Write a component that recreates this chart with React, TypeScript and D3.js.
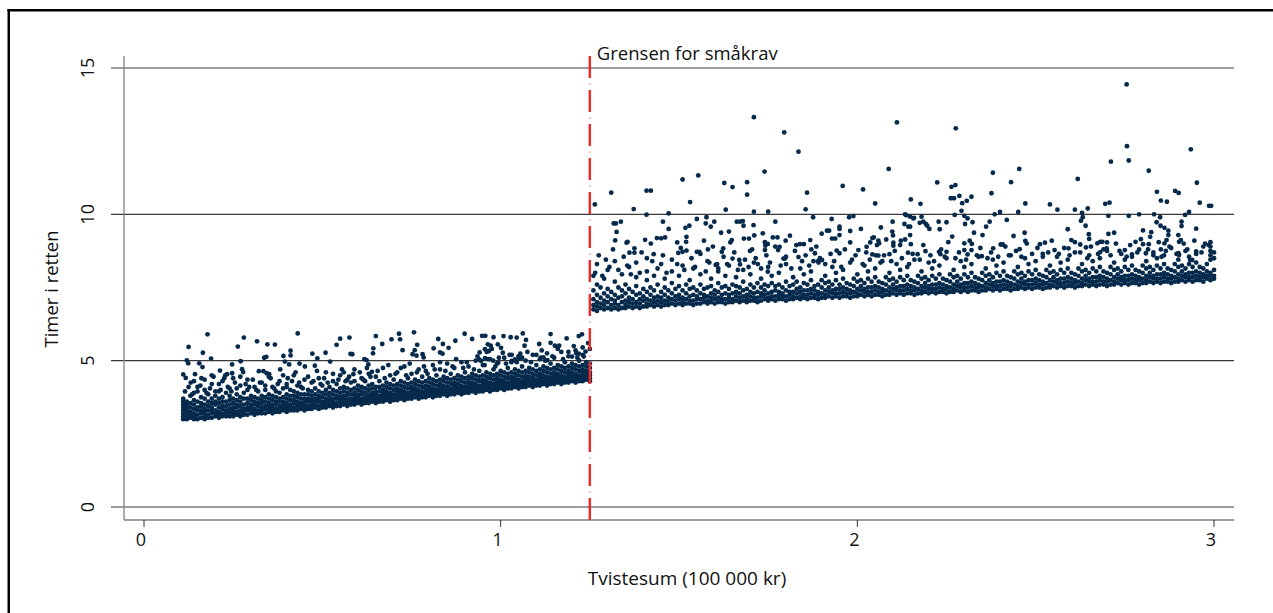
import React from 'react';
import * as d3 from 'd3';

// axis ticks
const xTicks = [0, 1, 2, 3];
const yTicks = [0, 5, 10, 15];
const threshold = 1.25;

// left group (below the small-claims limit): [x, y1, y2, ...] per thin x-slice
const leftBand: number[][] = [
  [0.11, 3.0, 3.1, 3.2, 3.3, 3.4, 3.5, 3.6, 3.7], [0.12, 3.0, 3.1, 3.2, 3.3, 3.4, 3.5, 3.6],
  [0.13, 3.05, 3.15, 3.25, 3.4, 3.55, 3.8], [0.14, 3.0, 3.1, 3.2, 3.35, 3.5, 3.65, 3.9],
  [0.15, 3.0, 3.15, 3.3, 3.4, 3.6, 4.1], [0.16, 3.05, 3.2, 3.3, 3.45, 3.55, 3.75],
  [0.17, 3.0, 3.1, 3.25, 3.35, 3.5, 3.7, 4.0], [0.18, 3.05, 3.15, 3.3, 3.45, 3.6, 3.85],
  [0.19, 3.05, 3.2, 3.3, 3.4, 3.55, 3.7, 4.2], [0.2, 3.1, 3.2, 3.3, 3.5, 3.6, 3.8],
  [0.21, 3.05, 3.15, 3.25, 3.4, 3.55, 3.7, 3.95], [0.22, 3.1, 3.2, 3.35, 3.45, 3.6, 3.75, 4.3],
  [0.23, 3.1, 3.2, 3.3, 3.45, 3.6, 3.9], [0.24, 3.1, 3.25, 3.35, 3.5, 3.65, 3.8, 4.05],
  [0.25, 3.1, 3.2, 3.3, 3.4, 3.55, 3.7, 4.4], [0.26, 3.15, 3.25, 3.4, 3.5, 3.65, 3.85],
  [0.27, 3.1, 3.2, 3.3, 3.45, 3.6, 3.75, 4.15], [0.28, 3.15, 3.25, 3.35, 3.5, 3.7, 3.9],
  [0.29, 3.15, 3.3, 3.4, 3.55, 3.7, 4.0, 4.35], [0.3, 3.2, 3.3, 3.4, 3.5, 3.65, 3.8],
  [0.31, 3.15, 3.25, 3.35, 3.5, 3.6, 3.75, 4.1], [0.32, 3.2, 3.3, 3.45, 3.55, 3.7, 3.95],
  [0.33, 3.2, 3.3, 3.4, 3.55, 3.65, 3.8, 4.25], [0.34, 3.2, 3.35, 3.45, 3.6, 3.75, 4.0],
  [0.35, 3.25, 3.35, 3.45, 3.55, 3.7, 3.85, 4.45], [0.36, 3.2, 3.3, 3.4, 3.5, 3.65, 3.8, 4.1],
  [0.37, 3.25, 3.35, 3.5, 3.6, 3.75, 3.95], [0.38, 3.25, 3.35, 3.45, 3.6, 3.7, 3.9, 4.3],
  [0.39, 3.3, 3.4, 3.5, 3.6, 3.75, 4.05], [0.4, 3.25, 3.35, 3.45, 3.55, 3.7, 3.85, 4.2],
  [0.41, 3.3, 3.4, 3.5, 3.65, 3.8, 4.0], [0.42, 3.3, 3.4, 3.55, 3.65, 3.8, 3.95, 4.5],
  [0.43, 3.3, 3.4, 3.5, 3.6, 3.75, 3.9, 4.15], [0.44, 3.35, 3.45, 3.55, 3.7, 3.85, 4.1],
  [0.45, 3.3, 3.4, 3.5, 3.6, 3.7, 3.85, 4.35], [0.46, 3.35, 3.45, 3.6, 3.7, 3.85, 4.0],
  [0.47, 3.35, 3.45, 3.55, 3.65, 3.8, 3.95, 4.25], [0.48, 3.4, 3.5, 3.6, 3.7, 3.85, 4.05],
  [0.49, 3.35, 3.45, 3.6, 3.7, 3.8, 3.95, 4.4], [0.5, 3.4, 3.5, 3.6, 3.75, 3.9, 4.15],
  [0.51, 3.4, 3.5, 3.6, 3.7, 3.85, 4.0, 4.6], [0.52, 3.45, 3.55, 3.65, 3.75, 3.9, 4.1],
  [0.53, 3.4, 3.5, 3.6, 3.7, 3.85, 4.0, 4.3], [0.54, 3.45, 3.55, 3.7, 3.8, 3.95, 4.2],
  [0.55, 3.45, 3.55, 3.65, 3.75, 3.9, 4.05, 4.5], [0.56, 3.5, 3.6, 3.7, 3.8, 3.95, 4.1],
  [0.57, 3.45, 3.55, 3.65, 3.8, 3.9, 4.05, 4.35], [0.58, 3.5, 3.6, 3.7, 3.85, 4.0, 4.25],
  [0.59, 3.5, 3.6, 3.7, 3.8, 3.9, 4.05, 4.7], [0.6, 3.55, 3.65, 3.75, 3.85, 4.0, 4.15],
  [0.61, 3.5, 3.6, 3.7, 3.85, 3.95, 4.1, 4.4], [0.62, 3.55, 3.65, 3.75, 3.9, 4.05, 4.3],
  [0.63, 3.55, 3.65, 3.75, 3.85, 4.0, 4.15, 4.55], [0.64, 3.6, 3.7, 3.8, 3.9, 4.05, 4.2],
  [0.65, 3.55, 3.65, 3.75, 3.85, 3.95, 4.1, 4.45], [0.66, 3.6, 3.7, 3.8, 3.95, 4.1, 4.3],
  [0.67, 3.6, 3.7, 3.8, 3.9, 4.0, 4.15, 4.75], [0.68, 3.65, 3.75, 3.85, 3.95, 4.1, 4.25],
  [0.69, 3.6, 3.7, 3.8, 3.9, 4.05, 4.2, 4.5], [0.7, 3.65, 3.75, 3.85, 4.0, 4.15, 4.35],
  [0.71, 3.65, 3.75, 3.85, 3.95, 4.05, 4.2, 4.6], [0.72, 3.7, 3.8, 3.9, 4.0, 4.15, 4.3],
  [0.73, 3.65, 3.75, 3.85, 3.95, 4.1, 4.25, 4.8], [0.74, 3.7, 3.8, 3.9, 4.05, 4.2, 4.4],
  [0.75, 3.7, 3.8, 3.9, 4.0, 4.1, 4.25, 4.55], [0.76, 3.75, 3.85, 3.95, 4.05, 4.2, 4.35],
  [0.77, 3.7, 3.8, 3.9, 4.0, 4.15, 4.3, 4.7], [0.78, 3.75, 3.85, 3.95, 4.1, 4.25, 4.45],
  [0.79, 3.75, 3.85, 3.95, 4.05, 4.15, 4.3, 4.65], [0.8, 3.8, 3.9, 4.0, 4.1, 4.25, 4.4],
  [0.81, 3.75, 3.85, 3.95, 4.05, 4.2, 4.35, 4.85], [0.82, 3.8, 3.9, 4.0, 4.15, 4.3, 4.5],
  [0.83, 3.8, 3.9, 4.0, 4.1, 4.2, 4.35, 4.7], [0.84, 3.85, 3.95, 4.05, 4.15, 4.3, 4.45],
  [0.85, 3.8, 3.9, 4.0, 4.1, 4.25, 4.4, 4.9], [0.86, 3.85, 3.95, 4.05, 4.2, 4.35, 4.55],
  [0.87, 3.85, 3.95, 4.05, 4.15, 4.25, 4.4, 4.75], [0.88, 3.9, 4.0, 4.1, 4.2, 4.35, 4.5],
  [0.89, 3.85, 3.95, 4.05, 4.15, 4.3, 4.45, 4.95], [0.9, 3.9, 4.0, 4.1, 4.25, 4.4, 4.6],
  [0.91, 3.9, 4.0, 4.1, 4.2, 4.3, 4.45, 4.8], [0.92, 3.95, 4.05, 4.15, 4.25, 4.4, 4.55],
  [0.93, 3.9, 4.0, 4.1, 4.2, 4.35, 4.5, 5.0], [0.94, 3.95, 4.05, 4.15, 4.3, 4.45, 4.65],
  [0.95, 3.95, 4.05, 4.15, 4.25, 4.35, 4.5, 4.85], [0.96, 4.0, 4.1, 4.2, 4.3, 4.45, 4.6],
  [0.97, 3.95, 4.05, 4.15, 4.25, 4.4, 4.55, 5.05], [0.98, 4.0, 4.1, 4.2, 4.35, 4.5, 4.7],
  [0.99, 4.0, 4.1, 4.2, 4.3, 4.4, 4.55, 4.9], [1.0, 4.05, 4.15, 4.25, 4.35, 4.5, 4.65],
  [1.01, 4.0, 4.1, 4.2, 4.3, 4.45, 4.6, 5.1], [1.02, 4.05, 4.15, 4.25, 4.4, 4.55, 4.75],
  [1.03, 4.05, 4.15, 4.25, 4.35, 4.45, 4.6, 4.95], [1.04, 4.1, 4.2, 4.3, 4.4, 4.55, 4.7],
  [1.05, 4.05, 4.15, 4.25, 4.35, 4.5, 4.65, 5.15], [1.06, 4.1, 4.2, 4.3, 4.45, 4.6, 4.8],
  [1.07, 4.1, 4.2, 4.3, 4.4, 4.5, 4.65, 5.0], [1.08, 4.15, 4.25, 4.35, 4.45, 4.6, 4.75],
  [1.09, 4.1, 4.2, 4.3, 4.4, 4.55, 4.7, 5.2], [1.1, 4.15, 4.25, 4.35, 4.5, 4.65, 4.85],
  [1.11, 4.15, 4.25, 4.35, 4.45, 4.55, 4.7, 5.05], [1.12, 4.2, 4.3, 4.4, 4.5, 4.65, 4.8],
  [1.13, 4.15, 4.25, 4.35, 4.45, 4.6, 4.75, 5.25], [1.14, 4.2, 4.3, 4.4, 4.55, 4.7, 4.9],
  [1.15, 4.2, 4.3, 4.4, 4.5, 4.6, 4.75, 5.1], [1.16, 4.25, 4.35, 4.45, 4.55, 4.7, 4.85],
  [1.17, 4.2, 4.3, 4.4, 4.5, 4.65, 4.8, 5.3], [1.18, 4.25, 4.35, 4.45, 4.6, 4.75, 4.95],
  [1.19, 4.25, 4.35, 4.45, 4.55, 4.65, 4.8, 5.15], [1.2, 4.3, 4.4, 4.5, 4.6, 4.75, 4.9],
  [1.21, 4.25, 4.35, 4.45, 4.55, 4.7, 4.85, 5.35], [1.22, 4.3, 4.4, 4.5, 4.65, 4.8, 5.0],
  [1.23, 4.3, 4.4, 4.5, 4.6, 4.7, 4.85, 5.2], [1.24, 4.35, 4.45, 4.55, 4.65, 4.8, 4.95],
  [1.25, 4.3, 4.4, 4.5, 4.6, 4.75, 4.9, 5.4],
];

// left group, looser points just above the dense band
const leftMid: [number, number][] = [
  [0.115, 3.95], [0.125, 4.1], [0.135, 3.85], [0.14, 4.3], [0.15, 3.95], [0.158, 4.15], [0.17, 4.35],
  [0.175, 3.9], [0.185, 4.05], [0.195, 4.45], [0.2, 3.95], [0.21, 4.2], [0.215, 4.0], [0.225, 4.4],
  [0.235, 4.1], [0.245, 3.95], [0.255, 4.25], [0.26, 4.05], [0.27, 4.45], [0.285, 4.2], [0.295, 4.1],
  [0.305, 4.35], [0.315, 4.0], [0.325, 4.25], [0.34, 4.15], [0.355, 4.4], [0.365, 4.05], [0.375, 4.2],
  [0.39, 4.5], [0.4, 4.1], [0.415, 4.3], [0.425, 4.6], [0.435, 4.25], [0.445, 4.05], [0.46, 4.45],
  [0.475, 4.3], [0.485, 4.65], [0.495, 4.2], [0.505, 4.4], [0.515, 4.25], [0.53, 4.55], [0.545, 4.35],
  [0.555, 4.7], [0.565, 4.3], [0.575, 4.45], [0.59, 4.3], [0.605, 4.6], [0.615, 4.35], [0.625, 4.75],
  [0.635, 4.45], [0.655, 4.65], [0.675, 4.4], [0.685, 4.85], [0.705, 4.55], [0.72, 4.75], [0.735, 4.5],
  [0.745, 4.9], [0.765, 4.6], [0.785, 4.8], [0.795, 4.55], [0.815, 4.7], [0.83, 4.95], [0.845, 4.65],
  [0.865, 4.8], [0.875, 5.05], [0.895, 4.75], [0.905, 4.95], [0.925, 4.7], [0.935, 5.15], [0.955, 4.85],
  [0.965, 5.05], [0.985, 4.8], [0.995, 5.1], [1.015, 4.9], [1.025, 5.2], [1.045, 4.95], [1.06, 5.1],
  [1.075, 5.3], [1.085, 4.95], [1.1, 5.2], [1.115, 5.35], [1.125, 5.0], [1.145, 5.15], [1.16, 5.4],
  [1.175, 5.05], [1.19, 5.3], [1.205, 5.5], [1.215, 5.1], [1.23, 5.45], [1.245, 5.6],
];

// scattered high values in the left group
const leftUpper: [number, number][] = [
  [0.178, 5.9], [0.125, 5.47], [0.12, 5.01], [0.124, 4.91], [0.165, 5.27], [0.188, 5.07],
  [0.11, 4.53], [0.117, 4.41], [0.143, 4.54], [0.131, 4.25], [0.155, 4.91], [0.164, 4.78],
  [0.19, 4.5], [0.161, 4.4], [0.213, 4.66], [0.228, 4.5], [0.233, 4.54], [0.247, 4.57],
  [0.247, 4.87], [0.263, 5.48], [0.28, 5.79], [0.271, 4.98], [0.275, 4.71], [0.278, 4.61],
  [0.317, 5.66], [0.346, 5.56], [0.367, 5.55], [0.337, 5.1], [0.343, 5.13], [0.322, 4.64],
  [0.335, 4.64], [0.344, 4.57], [0.351, 4.54], [0.382, 4.7], [0.395, 4.97], [0.391, 5.16],
  [0.411, 5.34], [0.411, 5.18], [0.431, 5.93], [0.407, 4.87], [0.436, 4.9], [0.403, 4.4],
  [0.451, 4.8], [0.479, 4.83], [0.472, 5.24], [0.486, 5.08], [0.509, 5.27], [0.522, 4.97],
  [0.54, 5.54], [0.55, 5.75], [0.576, 5.79], [0.579, 5.23], [0.584, 5.22], [0.56, 4.6],
  [0.587, 4.54], [0.618, 5.05], [0.624, 5.02], [0.629, 4.87], [0.643, 5.42], [0.65, 5.84],
  [0.642, 5.25], [0.639, 4.62], [0.668, 5.57], [0.694, 5.73], [0.715, 5.92], [0.718, 5.73],
  [0.757, 5.97], [0.725, 5.36], [0.753, 5.22], [0.759, 5.36], [0.766, 5.54], [0.764, 5.17],
  [0.781, 5.22], [0.784, 5.11], [0.825, 5.74], [0.838, 5.57], [0.854, 5.44], [0.873, 5.68],
  [0.812, 5.42], [0.83, 5.28], [0.837, 5.24], [0.899, 5.92], [0.92, 5.74], [0.948, 5.85],
  [0.957, 5.85], [0.98, 5.8], [1.008, 5.84], [1.028, 5.8], [1.045, 5.79], [1.062, 5.93],
  [0.964, 5.56], [0.972, 5.51], [0.975, 5.4], [0.967, 5.33], [0.961, 5.3], [0.956, 5.39],
  [0.941, 5.28], [0.992, 5.56], [1.001, 5.44], [1.006, 5.27], [1.031, 5.2], [1.055, 5.24],
  [1.071, 5.71], [1.067, 5.51], [1.108, 5.57], [1.14, 5.91], [1.14, 5.61], [1.152, 5.51],
  [1.164, 5.51], [1.112, 5.1], [1.12, 5.11], [1.131, 5.02], [1.185, 5.76], [1.219, 5.84],
  [1.228, 5.9], [1.2, 5.14], [1.212, 5.25], [1.219, 5.24], [1.238, 5.31], [1.233, 5.14],
  [0.94, 5.04], [0.945, 4.99], [0.956, 5.09], [0.979, 5.0], [0.993, 4.93], [1.031, 4.99],
  [1.04, 5.04], [1.052, 5.08],
];

// right group (above the limit): [x, y1, y2, ...] per thin x-slice
const rightBand: number[][] = [
  [1.26, 6.75, 6.9, 7.1, 7.4, 7.9], [1.27, 6.7, 6.85, 7.0, 7.25, 7.6, 8.3], [1.28, 6.8, 6.95, 7.15, 7.5],
  [1.29, 6.75, 6.9, 7.05, 7.3, 7.8], [1.3, 6.8, 7.0, 7.2, 7.45, 8.1], [1.31, 6.75, 6.9, 7.1, 7.35],
  [1.32, 6.8, 6.95, 7.05, 7.25, 7.7, 8.4], [1.33, 6.75, 6.9, 7.15, 7.5], [1.34, 6.8, 7.0, 7.2, 7.4, 7.95],
  [1.35, 6.8, 6.9, 7.05, 7.3, 7.6], [1.36, 6.85, 7.0, 7.15, 7.45, 8.2], [1.37, 6.8, 6.95, 7.1, 7.35],
  [1.38, 6.85, 7.0, 7.25, 7.55, 7.85], [1.39, 6.8, 6.95, 7.1, 7.3, 8.0], [1.4, 6.85, 7.05, 7.2, 7.45],
  [1.41, 6.85, 6.95, 7.1, 7.35, 7.75, 8.5], [1.42, 6.9, 7.05, 7.25, 7.5], [1.43, 6.85, 7.0, 7.15, 7.4, 7.9],
  [1.44, 6.9, 7.05, 7.2, 7.6], [1.45, 6.85, 7.0, 7.15, 7.35, 8.3], [1.46, 6.9, 7.05, 7.25, 7.5, 7.8],
  [1.47, 6.9, 7.0, 7.15, 7.4], [1.48, 6.95, 7.1, 7.3, 7.65, 8.05], [1.49, 6.9, 7.05, 7.2, 7.45],
  [1.5, 6.95, 7.1, 7.25, 7.55, 7.9], [1.51, 6.9, 7.0, 7.15, 7.4, 8.25], [1.52, 6.95, 7.1, 7.3, 7.6],
  [1.53, 6.95, 7.05, 7.2, 7.45, 7.75], [1.54, 6.9, 7.05, 7.25, 7.5, 8.15], [1.55, 6.95, 7.1, 7.2, 7.4],
  [1.56, 6.95, 7.1, 7.3, 7.6, 7.95], [1.57, 7.0, 7.15, 7.25, 7.45], [1.58, 6.95, 7.05, 7.2, 7.5, 8.4],
  [1.59, 7.0, 7.15, 7.3, 7.55, 7.8], [1.6, 6.95, 7.1, 7.25, 7.4], [1.61, 7.0, 7.15, 7.35, 7.65, 8.05],
  [1.62, 7.0, 7.1, 7.25, 7.5], [1.63, 6.95, 7.1, 7.3, 7.55, 7.9], [1.64, 7.0, 7.15, 7.25, 7.45, 8.25],
  [1.65, 7.0, 7.1, 7.3, 7.6], [1.66, 7.05, 7.2, 7.35, 7.55, 7.85], [1.67, 7.0, 7.15, 7.3, 7.5],
  [1.68, 7.05, 7.2, 7.4, 7.7, 8.1], [1.69, 7.0, 7.1, 7.25, 7.45], [1.7, 7.05, 7.2, 7.35, 7.6, 7.95],
  [1.71, 7.05, 7.15, 7.3, 7.5, 8.35], [1.72, 7.0, 7.15, 7.35, 7.65], [1.73, 7.05, 7.2, 7.3, 7.5, 7.8],
  [1.74, 7.1, 7.25, 7.4, 7.6], [1.75, 7.05, 7.15, 7.3, 7.55, 8.2], [1.76, 7.1, 7.2, 7.35, 7.65, 7.9],
  [1.77, 7.05, 7.2, 7.4, 7.55], [1.78, 7.1, 7.25, 7.35, 7.6, 8.0], [1.79, 7.1, 7.2, 7.3, 7.5],
  [1.8, 7.05, 7.2, 7.4, 7.7, 8.3], [1.81, 7.1, 7.25, 7.35, 7.55], [1.82, 7.1, 7.2, 7.35, 7.6, 7.85],
  [1.83, 7.15, 7.3, 7.45, 7.7], [1.84, 7.1, 7.2, 7.35, 7.5, 8.15], [1.85, 7.15, 7.25, 7.4, 7.65, 7.95],
  [1.86, 7.1, 7.25, 7.4, 7.6], [1.87, 7.15, 7.3, 7.45, 7.75, 8.05], [1.88, 7.15, 7.25, 7.4, 7.55],
  [1.89, 7.1, 7.25, 7.35, 7.6, 8.4], [1.9, 7.15, 7.3, 7.5, 7.75], [1.91, 7.15, 7.25, 7.4, 7.65, 7.9],
  [1.92, 7.2, 7.35, 7.5, 7.7], [1.93, 7.15, 7.3, 7.4, 7.6, 8.2], [1.94, 7.2, 7.3, 7.45, 7.75, 8.0],
  [1.95, 7.15, 7.3, 7.45, 7.6], [1.96, 7.2, 7.35, 7.5, 7.8, 8.1], [1.97, 7.2, 7.3, 7.45, 7.65],
  [1.98, 7.15, 7.3, 7.4, 7.6, 8.35], [1.99, 7.2, 7.35, 7.55, 7.8], [2.0, 7.2, 7.3, 7.45, 7.7, 7.95],
  [2.01, 7.25, 7.4, 7.55, 7.75], [2.02, 7.2, 7.35, 7.45, 7.65, 8.25], [2.03, 7.25, 7.35, 7.5, 7.8, 8.05],
  [2.04, 7.2, 7.35, 7.5, 7.7], [2.05, 7.25, 7.4, 7.55, 7.85, 8.15], [2.06, 7.25, 7.35, 7.5, 7.7],
  [2.07, 7.2, 7.35, 7.45, 7.65, 8.4], [2.08, 7.25, 7.4, 7.6, 7.85], [2.09, 7.25, 7.35, 7.5, 7.75, 8.0],
  [2.1, 7.3, 7.45, 7.6, 7.8], [2.11, 7.25, 7.4, 7.5, 7.7, 8.3], [2.12, 7.3, 7.4, 7.55, 7.85, 8.1],
  [2.13, 7.25, 7.4, 7.55, 7.75], [2.14, 7.3, 7.45, 7.6, 7.9, 8.2], [2.15, 7.3, 7.4, 7.55, 7.75],
  [2.16, 7.25, 7.4, 7.5, 7.7, 8.45], [2.17, 7.3, 7.45, 7.65, 7.9], [2.18, 7.3, 7.4, 7.55, 7.8, 8.05],
  [2.19, 7.35, 7.5, 7.65, 7.85], [2.2, 7.3, 7.45, 7.55, 7.75, 8.35], [2.21, 7.35, 7.45, 7.6, 7.9, 8.15],
  [2.22, 7.3, 7.45, 7.6, 7.8], [2.23, 7.35, 7.5, 7.65, 7.95, 8.25], [2.24, 7.35, 7.45, 7.6, 7.8],
  [2.25, 7.3, 7.45, 7.55, 7.75, 8.5], [2.26, 7.35, 7.5, 7.7, 7.95], [2.27, 7.35, 7.45, 7.6, 7.85, 8.1],
  [2.28, 7.4, 7.55, 7.7, 7.9], [2.29, 7.35, 7.5, 7.6, 7.8, 8.4], [2.3, 7.4, 7.5, 7.65, 7.95, 8.2],
  [2.31, 7.35, 7.5, 7.65, 7.85], [2.32, 7.4, 7.55, 7.7, 8.0, 8.3], [2.33, 7.4, 7.5, 7.65, 7.85],
  [2.34, 7.35, 7.5, 7.6, 7.8, 8.55], [2.35, 7.4, 7.55, 7.75, 8.0], [2.36, 7.4, 7.5, 7.65, 7.9, 8.15],
  [2.37, 7.45, 7.6, 7.75, 7.95], [2.38, 7.4, 7.55, 7.65, 7.85, 8.45], [2.39, 7.45, 7.55, 7.7, 8.0, 8.25],
  [2.4, 7.4, 7.55, 7.7, 7.9], [2.41, 7.45, 7.6, 7.75, 8.05, 8.35], [2.42, 7.45, 7.55, 7.7, 7.9],
  [2.43, 7.4, 7.55, 7.65, 7.85, 8.6], [2.44, 7.45, 7.6, 7.8, 8.05], [2.45, 7.45, 7.55, 7.7, 7.95, 8.2],
  [2.46, 7.5, 7.65, 7.8, 8.0], [2.47, 7.45, 7.6, 7.7, 7.9, 8.5], [2.48, 7.5, 7.6, 7.75, 8.05, 8.3],
  [2.49, 7.45, 7.6, 7.75, 7.95], [2.5, 7.5, 7.65, 7.8, 8.1, 8.4], [2.51, 7.5, 7.6, 7.75, 7.95],
  [2.52, 7.45, 7.6, 7.7, 7.9, 8.65], [2.53, 7.5, 7.65, 7.85, 8.1], [2.54, 7.5, 7.6, 7.75, 8.0, 8.25],
  [2.55, 7.55, 7.7, 7.85, 8.05], [2.56, 7.5, 7.65, 7.75, 7.95, 8.55], [2.57, 7.55, 7.65, 7.8, 8.1, 8.35],
  [2.58, 7.5, 7.65, 7.8, 8.0], [2.59, 7.55, 7.7, 7.85, 8.15, 8.45], [2.6, 7.55, 7.65, 7.8, 8.0],
  [2.61, 7.5, 7.65, 7.75, 7.95, 8.7], [2.62, 7.55, 7.7, 7.9, 8.15], [2.63, 7.55, 7.65, 7.8, 8.05, 8.3],
  [2.64, 7.6, 7.75, 7.9, 8.1], [2.65, 7.55, 7.7, 7.8, 8.0, 8.6], [2.66, 7.6, 7.7, 7.85, 8.15, 8.4],
  [2.67, 7.55, 7.7, 7.85, 8.05], [2.68, 7.6, 7.75, 7.9, 8.2, 8.5], [2.69, 7.6, 7.7, 7.85, 8.05],
  [2.7, 7.55, 7.7, 7.8, 8.0, 8.75], [2.71, 7.6, 7.75, 7.95, 8.2], [2.72, 7.6, 7.7, 7.85, 8.1, 8.35],
  [2.73, 7.65, 7.8, 7.95, 8.15], [2.74, 7.6, 7.75, 7.85, 8.05, 8.65], [2.75, 7.65, 7.75, 7.9, 8.2, 8.45],
  [2.76, 7.6, 7.75, 7.9, 8.1], [2.77, 7.65, 7.8, 7.95, 8.25, 8.55], [2.78, 7.65, 7.75, 7.9, 8.1],
  [2.79, 7.6, 7.75, 7.85, 8.05, 8.8], [2.8, 7.65, 7.8, 8.0, 8.25], [2.81, 7.65, 7.75, 7.9, 8.15, 8.4],
  [2.82, 7.7, 7.85, 8.0, 8.2], [2.83, 7.65, 7.8, 7.9, 8.1, 8.7], [2.84, 7.7, 7.8, 7.95, 8.25, 8.5],
  [2.85, 7.65, 7.8, 7.95, 8.15], [2.86, 7.7, 7.85, 8.0, 8.3, 8.6], [2.87, 7.7, 7.8, 7.95, 8.15],
  [2.88, 7.65, 7.8, 7.9, 8.1, 8.85], [2.89, 7.7, 7.85, 8.05, 8.3], [2.9, 7.7, 7.8, 7.95, 8.2, 8.45],
  [2.91, 7.75, 7.9, 8.05, 8.25], [2.92, 7.7, 7.85, 7.95, 8.15, 8.75], [2.93, 7.75, 7.85, 8.0, 8.3, 8.55],
  [2.94, 7.7, 7.85, 8.0, 8.2], [2.95, 7.75, 7.9, 8.05, 8.35, 8.65], [2.96, 7.75, 7.85, 8.0, 8.2],
  [2.97, 7.7, 7.85, 7.95, 8.15, 8.9], [2.98, 7.8, 7.9, 8.05, 8.3],
  [2.99, 7.75, 7.9, 8.0, 8.45, 8.6, 8.75, 8.9, 9.05], [3.0, 7.8, 7.9, 8.1, 8.5, 8.7],
];

// right group, looser points just above its dense band
const rightLow: [number, number][] = [
  [1.265, 8.0], [1.275, 8.6], [1.285, 7.9], [1.295, 8.45], [1.305, 8.2], [1.315, 8.8], [1.33, 8.1],
  [1.345, 8.55], [1.355, 8.25], [1.365, 7.95], [1.38, 8.35], [1.395, 8.7], [1.41, 8.05], [1.425, 8.4],
  [1.44, 8.15], [1.455, 8.6], [1.465, 8.0], [1.48, 8.45], [1.495, 8.3], [1.505, 8.85], [1.515, 8.1],
  [1.535, 8.5], [1.545, 8.2], [1.56, 8.65], [1.575, 8.05], [1.585, 8.35], [1.595, 8.9], [1.61, 8.15],
  [1.625, 8.55], [1.635, 8.3], [1.655, 8.7], [1.665, 8.1], [1.685, 8.45], [1.695, 8.2], [1.705, 8.8],
  [1.715, 8.5], [1.73, 8.15], [1.745, 8.6], [1.755, 8.35], [1.77, 8.9], [1.785, 8.25], [1.8, 8.55],
  [1.815, 8.15], [1.825, 8.75], [1.845, 8.4], [1.855, 8.6], [1.865, 8.25], [1.885, 8.9], [1.895, 8.5],
  [1.91, 8.3], [1.925, 8.65], [1.935, 8.4], [1.955, 8.2], [1.965, 8.8], [1.985, 8.45], [1.995, 8.6],
  [2.015, 8.3], [2.025, 8.7], [2.035, 8.45], [2.055, 8.95], [2.065, 8.35], [2.075, 8.6], [2.095, 8.4],
  [2.105, 8.75], [2.125, 8.5], [2.145, 8.3], [2.155, 8.65], [2.175, 8.45], [2.185, 8.95], [2.205, 8.6],
  [2.215, 8.4], [2.235, 8.8], [2.245, 8.55], [2.255, 9.05], [2.275, 8.5], [2.285, 8.7], [2.305, 8.45],
  [2.315, 9.1], [2.335, 8.6], [2.345, 8.85], [2.365, 8.5], [2.375, 8.7], [2.395, 8.55], [2.415, 8.9],
  [2.425, 8.6], [2.445, 8.75], [2.46, 8.55], [2.475, 9.0], [2.49, 8.65], [2.505, 8.85], [2.52, 8.55],
  [2.535, 8.7], [2.545, 9.1], [2.565, 8.65], [2.58, 8.85], [2.595, 8.6], [2.61, 9.05], [2.625, 8.7],
  [2.645, 8.5], [2.655, 8.9], [2.675, 8.65], [2.69, 8.8], [2.71, 8.6], [2.725, 9.0], [2.735, 8.75],
  [2.755, 8.55], [2.765, 8.95], [2.785, 8.7], [2.795, 9.15], [2.815, 8.8], [2.83, 8.6], [2.845, 9.05],
  [2.865, 8.75], [2.875, 8.9], [2.895, 8.65], [2.915, 9.0], [2.925, 8.8], [2.945, 9.1], [2.965, 8.7],
  [2.985, 8.95],
];

// right group, mid-range scatter (about 8.2 to 10)
const rightMid: [number, number][] = [
  [1.317, 9.69], [1.323, 9.69], [1.337, 9.75], [1.325, 9.4], [1.321, 9.11], [1.353, 9.03],
  [1.356, 9.06], [1.361, 8.69], [1.375, 8.69], [1.375, 8.84], [1.405, 9.13], [1.421, 9.0],
  [1.429, 8.64], [1.438, 9.19], [1.45, 9.18], [1.461, 9.21], [1.455, 9.75], [1.471, 9.5],
  [1.495, 9.04], [1.498, 8.68], [1.51, 8.72], [1.521, 8.76], [1.521, 9.23], [1.52, 9.06],
  [1.518, 9.54], [1.529, 9.61], [1.55, 9.84], [1.55, 8.72], [1.557, 8.72], [1.57, 9.1],
  [1.577, 9.9], [1.575, 9.69], [1.589, 9.58], [1.599, 9.75], [1.581, 8.8], [1.603, 8.27],
  [1.607, 8.3], [1.618, 9.37], [1.62, 8.72], [1.624, 8.84], [1.64, 9.41], [1.644, 9.04],
  [1.648, 9.12], [1.65, 8.49], [1.662, 9.75], [1.671, 9.75], [1.679, 9.77], [1.681, 9.61],
  [1.682, 9.17], [1.696, 9.17], [1.669, 8.44], [1.671, 8.29], [1.699, 8.75], [1.709, 9.63],
  [1.711, 9.28], [1.721, 8.3], [1.735, 9.35], [1.741, 9.05], [1.749, 8.99], [1.742, 8.93],
  [1.741, 8.78], [1.749, 8.04], [1.763, 9.21], [1.776, 9.21], [1.77, 9.75], [1.778, 8.78],
  [1.782, 8.89], [1.793, 8.49], [1.797, 8.49], [1.799, 9.1], [1.811, 9.27], [1.829, 8.95],
  [1.839, 8.98], [1.85, 8.98], [1.835, 8.54], [1.868, 9.12], [1.871, 8.8], [1.881, 8.67],
  [1.876, 9.9], [1.877, 8.4], [1.891, 8.35], [1.901, 8.44], [1.9, 9.34], [1.915, 9.44],
  [1.921, 9.44], [1.928, 9.84], [1.929, 9.17], [1.938, 9.17], [1.942, 8.76], [1.95, 8.67],
  [1.95, 9.58], [1.95, 9.29], [1.95, 9.5], [1.977, 9.9], [1.989, 9.94], [1.98, 9.43],
  [1.98, 9.04], [2.003, 8.78], [2.01, 9.5], [2.026, 8.89], [2.036, 9.04], [2.042, 9.19],
  [2.046, 9.21], [2.059, 9.1], [2.061, 9.01], [2.066, 9.55], [2.042, 8.63], [2.052, 8.6],
  [2.059, 8.59], [2.081, 9.14], [2.09, 8.64], [2.099, 9.75], [2.098, 9.41], [2.1, 9.28],
  [2.101, 9.03], [2.101, 8.93], [2.122, 9.1], [2.12, 8.95], [2.132, 9.67], [2.143, 9.58],
  [2.142, 8.69], [2.148, 9.29], [2.159, 9.88], [2.134, 10.0], [2.148, 9.92], [2.157, 9.86],
  [2.148, 9.58], [2.15, 8.98], [2.134, 9.14], [2.175, 9.71], [2.185, 9.75], [2.192, 9.67],
  [2.196, 9.61], [2.202, 9.5], [2.18, 9.92], [2.169, 8.64], [2.191, 8.74], [2.228, 9.75],
  [2.231, 9.49], [2.229, 8.72], [2.233, 8.64], [2.25, 9.73], [2.25, 8.72], [2.266, 9.24],
  [2.292, 10.12], [2.3, 9.95], [2.309, 9.86], [2.302, 9.67], [2.3, 9.01], [2.3, 8.78],
  [2.321, 8.99], [2.32, 8.78], [2.309, 8.63], [2.323, 9.73], [2.327, 9.37], [2.349, 8.57],
  [2.351, 9.29], [2.361, 9.58], [2.371, 9.75], [2.385, 10.0], [2.381, 8.84], [2.402, 8.97],
  [2.408, 8.97], [2.419, 9.81], [2.438, 9.26], [2.455, 8.81], [2.469, 9.37], [2.471, 9.09],
  [2.512, 8.98], [2.526, 9.03], [2.553, 8.78], [2.59, 9.49], [2.6, 9.12], [2.592, 8.84],
  [2.625, 8.97], [2.641, 8.87], [2.627, 9.78], [2.632, 9.9], [2.64, 9.61], [2.649, 9.32],
  [2.65, 9.16], [2.673, 9.01], [2.681, 9.06], [2.687, 9.06], [2.7, 9.04], [2.704, 9.33],
  [2.72, 9.37], [2.681, 8.71], [2.699, 8.84], [2.75, 8.78], [2.77, 8.63], [2.78, 9.06],
  [2.79, 10.0], [2.801, 9.45], [2.801, 8.98], [2.809, 8.67], [2.824, 9.39], [2.821, 9.23],
  [2.817, 8.98], [2.839, 9.73], [2.849, 9.9], [2.85, 9.61], [2.861, 9.54], [2.872, 9.44],
  [2.872, 9.29], [2.867, 9.12], [2.861, 9.01], [2.851, 8.8], [2.853, 8.55], [2.9, 9.29],
  [2.902, 9.06], [2.907, 9.12], [2.909, 9.6], [2.909, 9.75], [2.9, 8.67], [2.902, 8.61],
  [2.95, 9.51], [2.95, 8.73], [2.933, 8.44], [2.939, 8.44], [2.975, 9.0],
];

// right group, high outliers (above 10)
const rightUpper: [number, number][] = [
  [1.264, 10.34], [1.31, 10.74], [1.409, 10.81], [1.421, 10.81], [1.373, 10.18], [1.409, 9.99],
  [1.471, 10.03], [1.51, 11.19], [1.531, 10.42], [1.554, 11.33], [1.627, 11.07], [1.65, 10.93],
  [1.631, 10.16], [1.691, 11.1], [1.691, 10.67], [1.71, 13.32], [1.71, 10.09], [1.74, 11.46],
  [1.75, 10.09], [1.795, 12.8], [1.835, 12.14], [1.859, 10.74], [1.855, 10.17], [1.959, 10.97],
  [2.016, 10.85], [2.05, 10.37], [2.088, 11.55], [2.111, 13.14], [2.15, 10.51], [2.137, 9.97],
  [2.276, 12.94], [2.224, 11.09], [2.177, 10.36], [2.264, 10.94], [2.275, 11.0], [2.262, 10.55],
  [2.271, 10.55], [2.286, 10.63], [2.294, 10.38], [2.307, 10.46], [2.32, 10.6], [2.273, 9.98],
  [2.38, 11.42], [2.376, 10.72], [2.431, 11.1], [2.454, 11.55], [2.471, 10.37], [2.451, 10.08],
  [2.4, 10.08], [2.54, 10.34], [2.561, 10.16], [2.618, 11.21], [2.61, 10.16], [2.646, 10.2],
  [2.63, 10.05], [2.695, 10.36], [2.707, 10.4], [2.711, 11.8], [2.755, 14.44], [2.756, 12.33],
  [2.761, 11.84], [2.817, 11.49], [2.84, 10.77], [2.851, 10.47], [2.868, 10.43], [2.891, 10.8],
  [2.901, 10.73], [2.935, 12.22], [2.952, 11.08], [2.96, 10.4], [2.986, 10.29], [2.992, 10.29],
  [2.93, 10.08], [2.919, 9.98], [2.832, 10.0], [2.761, 9.95], [2.704, 9.95],
];

const W = 1273;
const H = 613;
const font = '"Open Sans", "Noto Sans", sans-serif';
const textColor = '#111';
const dotColor = '#062a4c';

const expand = (rows: number[][]): [number, number][] =>
  rows.flatMap(([x, ...ys]) => ys.map((y) => [x, y] as [number, number]));

const App = () => {
  const x = d3.scaleLinear().domain([0, 3]).range([144, 1214]);
  const y = d3.scaleLinear().domain([0, 15]).range([507, 68]);

  const points = [
    ...expand(leftBand), ...leftMid, ...leftUpper,
    ...expand(rightBand), ...rightLow, ...rightMid, ...rightUpper,
  ];

  const plotLeft = 124;
  const plotRight = 1234;
  const plotTop = 56;
  const axisY = 520;
  const lineX = x(threshold);

  return (
    <svg width={W} height={H} style={{ position: 'absolute', left: 0, top: 0, background: '#fff' }}>
      {/* outer frame */}
      <line x1={8.75} x2={8.75} y1={9} y2={H} stroke="#000" strokeWidth={2.5} />
      <line x1={7.5} x2={W} y1={10.25} y2={10.25} stroke="#000" strokeWidth={2.5} />

      {/* horizontal grid lines with ticks */}
      {yTicks.map((t) => (
        <line key={'g' + t} x1={111} x2={plotRight} y1={y(t)} y2={y(t)} stroke="#3a3a3a" strokeWidth={1.2} />
      ))}
      {yTicks.map((t) => (
        <text key={'yl' + t} transform={`translate(${94},${y(t)}) rotate(-90)`} textAnchor="middle"
          fontFamily={font} fontSize={18} fill={textColor}>{t}</text>
      ))}

      {/* axes */}
      <line x1={plotLeft} x2={plotLeft} y1={plotTop} y2={axisY} stroke="#808080" strokeWidth={1.3} />
      <line x1={plotLeft} x2={plotRight} y1={axisY} y2={axisY} stroke="#808080" strokeWidth={1.3} />
      {xTicks.map((t) => (
        <g key={'xt' + t}>
          <line x1={x(t)} x2={x(t)} y1={axisY} y2={axisY + 7} stroke="#333" strokeWidth={1} />
          <text x={x(t) - 3} y={546} textAnchor="middle" fontFamily={font} fontSize={18} fill={textColor}>{t}</text>
        </g>
      ))}

      {/* points */}
      <g fill={dotColor}>
        {points.map(([px, py], i) => (
          <circle key={i} cx={x(px)} cy={y(py)} r={2.4} />
        ))}
      </g>

      {/* threshold line */}
      <line x1={lineX} x2={lineX} y1={plotTop} y2={axisY} stroke="#ee2a24" strokeWidth={2.4}
        strokeDasharray="22 12" />
      <line x1={lineX} x2={lineX} y1={plotTop} y2={axisY} stroke="#f6aaa6" strokeWidth={2.4}
        strokeDasharray="1.2 32.8" strokeDashoffset={-27.5} />
      <text x={lineX + 7} y={60} fontFamily={font} fontSize={18.5} fill={textColor}>Grensen for småkrav</text>

      {/* axis titles */}
      <text transform={`translate(${58},${289}) rotate(-90)`} textAnchor="middle" fontFamily={font}
        fontSize={18.5} fill={textColor}>Timer i retten</text>
      <text x={687} y={585} textAnchor="middle" fontFamily={font} fontSize={19} fill={textColor}>
        Tvistesum (100 000 kr)
      </text>
    </svg>
  );
};

export default App;
